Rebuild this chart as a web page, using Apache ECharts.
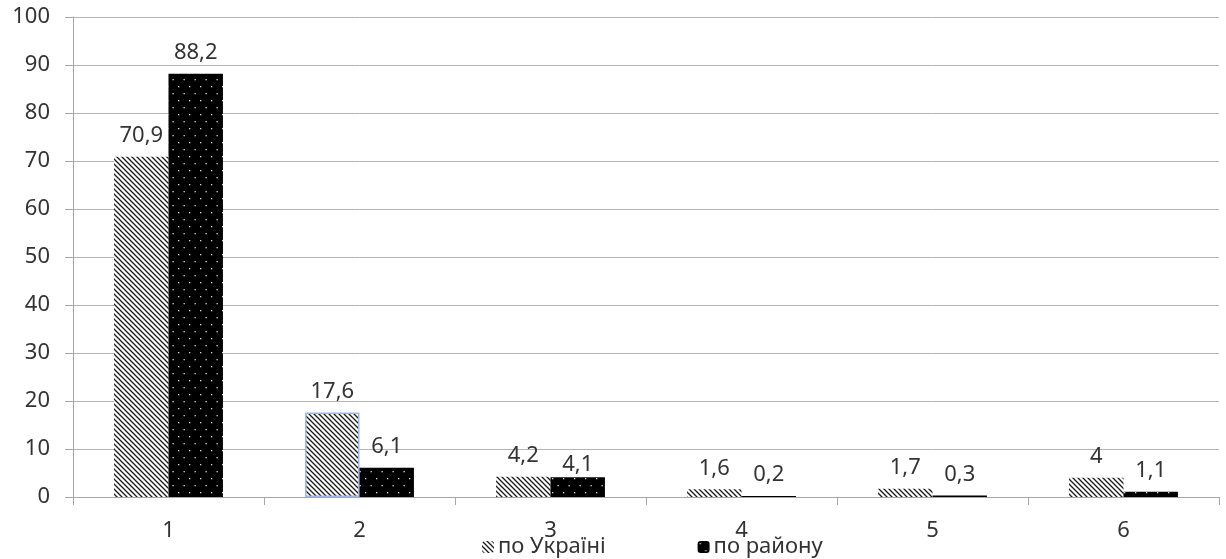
<!DOCTYPE html>
<html>
<head>
<meta charset="utf-8">
<script src="https://cdn.jsdelivr.net/npm/echarts@6/dist/echarts.min.js"></script>
<style>
html,body{margin:0;padding:0;background:#fff;}
#chart{width:1226px;height:559px;}
</style>
</head>
<body>
<div id="chart"></div>
<script>
const categories = ['1','2','3','4','5','6'];
const seriesNames = ['по Україні','по району'];
const ukraine = [70.9, 17.6, 4.2, 1.6, 1.7, 4];
const district = [88.2, 6.1, 4.1, 0.2, 0.3, 1.1];
const yTicks = {min: 0, max: 100, interval: 10};

function hatchPattern() {
  const s = 5;
  const c = document.createElement('canvas');
  c.width = s; c.height = s;
  const g = c.getContext('2d');
  g.fillStyle = '#ffffff';
  g.fillRect(0, 0, s, s);
  g.strokeStyle = '#1a1a1a';
  g.lineWidth = 1.3;
  g.beginPath();
  g.moveTo(-1, -1); g.lineTo(s + 1, s + 1);
  g.moveTo(-1, s - 1); g.lineTo(1, s + 1);
  g.moveTo(s - 1, -1); g.lineTo(s + 1, 1);
  g.stroke();
  return c;
}
function dotPattern() {
  const w = 11, h = 14;
  const c = document.createElement('canvas');
  c.width = w; c.height = h;
  const g = c.getContext('2d');
  g.fillStyle = '#000000';
  g.fillRect(0, 0, w, h);
  g.fillStyle = '#d8d8d8';
  g.fillRect(2, 2, 1.3, 1.3);
  g.fillRect(7.5, 9, 1.3, 1.3);
  return c;
}

const font = 'Noto Sans';
const txt = '#333333';
const fs = 22;
function fmt(p) { return String(p.value).replace('.', ','); }

const ukData = ukraine.map((v, i) => {
  const d = {value: v};
  if (i === 1) d.itemStyle = {borderColor: '#9db8e8', borderWidth: 1.5};
  return d;
});
const dsData = district.map((v, i) => {
  const d = {value: v};
  if (i === 2) d.label = {distance: 2};
  return d;
});

const chart = echarts.init(document.getElementById('chart'), null, {renderer: 'canvas'});
chart.setOption({
  animation: false,
  backgroundColor: '#ffffff',
  grid: {left: 73, right: 7, top: 17, bottom: 62, containLabel: false},
  legend: {
    left: 477, top: 531,
    itemWidth: 12, itemHeight: 12, itemGap: 92,
    textStyle: {fontFamily: font, fontSize: fs, color: txt, padding: [0, 0, 0, -1]},
    data: seriesNames
  },
  xAxis: {
    type: 'category',
    data: categories,
    axisLine: {lineStyle: {color: '#a6a6a6', width: 1}},
    axisTick: {show: true, length: 8, lineStyle: {color: '#a6a6a6'}},
    axisLabel: {fontFamily: font, fontSize: fs, color: txt, margin: 23}
  },
  yAxis: {
    type: 'value',
    min: yTicks.min, max: yTicks.max, interval: yTicks.interval,
    axisLine: {show: true, lineStyle: {color: '#a6a6a6'}},
    axisTick: {show: true, length: 8, lineStyle: {color: '#a6a6a6'}},
    splitLine: {lineStyle: {color: '#b3b3b3', width: 1}},
    axisLabel: {fontFamily: font, fontSize: fs, color: txt, margin: 23}
  },
  series: [
    {
      name: seriesNames[0], type: 'bar', data: ukData,
      barGap: '0%', barCategoryGap: '43%',
      itemStyle: {color: {image: hatchPattern(), repeat: 'repeat'}},
      label: {show: true, position: 'top', distance: 10, formatter: fmt,
              fontFamily: font, fontSize: fs, color: txt}
    },
    {
      name: seriesNames[1], type: 'bar', data: dsData,
      barGap: '0%', barCategoryGap: '43%',
      itemStyle: {color: {image: dotPattern(), repeat: 'repeat'}},
      label: {show: true, position: 'top', distance: 10, formatter: fmt,
              fontFamily: font, fontSize: fs, color: txt}
    }
  ]
});
</script>
</body>
</html>
